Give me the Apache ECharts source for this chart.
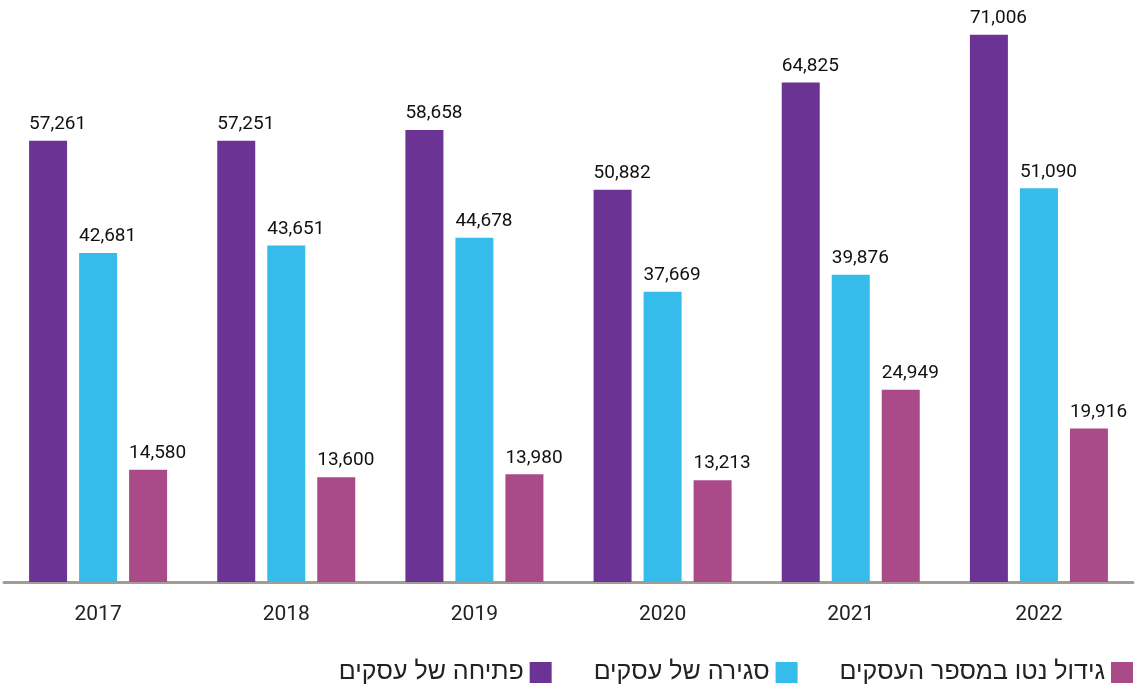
<!DOCTYPE html>
<html>
<head>
<meta charset="utf-8">
<script src="https://cdn.jsdelivr.net/npm/echarts@6/dist/echarts.min.js"></script>
<style>
  html, body { margin: 0; padding: 0; background: #fff; }
  #chart { width: 1141px; height: 684px; }
</style>
</head>
<body>
<div id="chart"></div>
<script>
const years = ['2017', '2018', '2019', '2020', '2021', '2022'];
const openings = [57261, 57251, 58658, 50882, 64825, 71006];
const closings = [42681, 43651, 44678, 37669, 39876, 51090];
const netGrowth = [14580, 13600, 13980, 13213, 24949, 19916];

const names = ['פתיחה של עסקים', 'סגירה של עסקים', 'גידול נטו במספר העסקים'];
const colors = ['#6b3494', '#35bceb', '#aa4a88'];

const chart = echarts.init(document.getElementById('chart'));

// labels sit above the bar, starting at its left edge
const label = {
  show: true,
  position: [0, -7],
  align: 'left',
  verticalAlign: 'bottom',
  color: '#111',
  fontFamily: 'Roboto',
  fontSize: 19,
  fontWeight: 'normal',
  formatter: (p) => p.value.toLocaleString('en-US')
};

const makeSeries = (i, data) => ({
  name: names[i],
  type: 'bar',
  barWidth: 38,
  barGap: '31.6%',
  itemStyle: { color: colors[i] },
  label,
  data
});

chart.setOption({
  animation: false,
  textStyle: { fontFamily: 'Roboto' },
  grid: { left: 4, right: 8, top: 4, bottom: 102, containLabel: false },
  legend: {
    bottom: -6,
    right: 3,
    align: 'right',
    itemWidth: 22,
    itemHeight: 21,
    itemGap: 42,
    icon: 'rect',
    textStyle: {
      fontFamily: 'Liberation Sans Narrow, Liberation Sans, DejaVu Sans',
      fontSize: 25,
      color: '#222',
      padding: [0, 1, 0, 0]
    },
    data: names
  },
  xAxis: {
    type: 'category',
    data: years,
    axisLine: { lineStyle: { color: '#a39c96', width: 3 } },
    axisTick: { show: false },
    axisLabel: {
      color: '#222',
      fontSize: 21,
      margin: 22,
      fontFamily: 'Roboto'
    }
  },
  yAxis: {
    type: 'value',
    min: 0,
    max: 75000,
    show: false,
    splitLine: { show: false }
  },
  series: [
    makeSeries(0, openings),
    makeSeries(1, closings),
    makeSeries(2, netGrowth)
  ]
});
</script>
</body>
</html>
